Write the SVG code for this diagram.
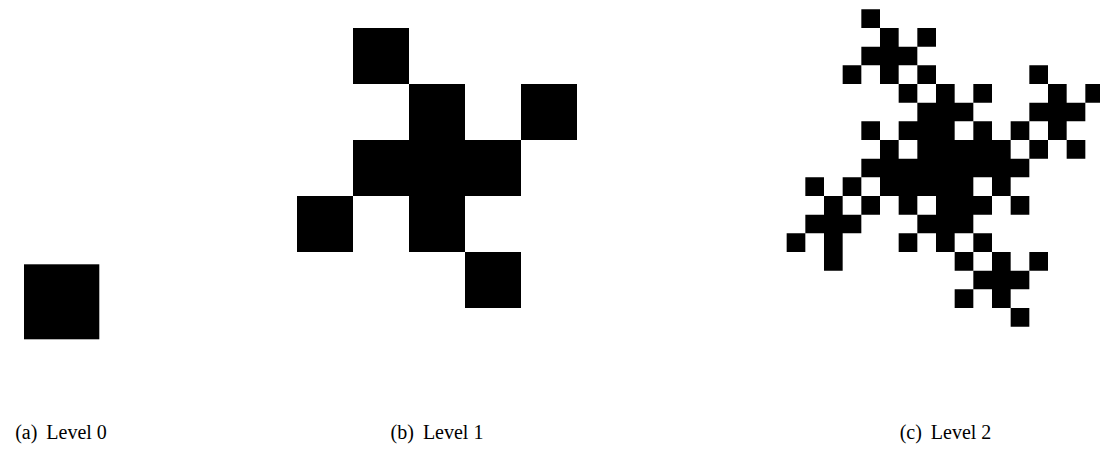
<svg xmlns="http://www.w3.org/2000/svg" width="1100" height="451" viewBox="0 0 1100 451">
<style>
.sq{fill:#000;stroke:none}
.cap{font-family:"Liberation Serif","Times New Roman",serif;font-size:20px;fill:#000;text-anchor:middle}
</style>
<rect width="1100" height="451" fill="#fff"/>
<g id="level0">
<rect class="sq" x="24" y="264.3" width="75.3" height="75"/>
</g>
<g id="level1" transform="translate(297,28) scale(56)">
<path class="sq" d="M1 0h1v1h-1zM2 1h1v1h-1zM4 1h1v1h-1zM1 2h1v1h-1zM2 2h1v1h-1zM3 2h1v1h-1zM0 3h1v1h-1zM2 3h1v1h-1zM3 4h1v1h-1z"/>
</g>
<g id="level2" transform="translate(805.333,28) scale(18.6667)">
<path class="sq" d="M3 -1h1v1h-1zM4 0h1v1h-1zM6 0h1v1h-1zM3 1h1v1h-1zM4 1h1v1h-1zM5 1h1v1h-1zM2 2h1v1h-1zM4 2h1v1h-1zM5 3h1v1h-1z
M7 3h1v1h-1zM6 4h1v1h-1zM7 4h1v1h-1zM8 4h1v1h-1zM7 5h1v1h-1zM6 2h1v1h-1zM9 3h1v1h-1zM5 5h1v1h-1zM8 6h1v1h-1z
M13 3h1v1h-1zM12 4h1v1h-1zM13 4h1v1h-1zM14 4h1v1h-1zM13 5h1v1h-1zM12 2h1v1h-1zM15 3h1v1h-1zM11 5h1v1h-1zM14 6h1v1h-1z
M4 6h1v1h-1zM3 7h1v1h-1zM4 7h1v1h-1zM5 7h1v1h-1zM4 8h1v1h-1zM3 5h1v1h-1zM6 6h1v1h-1zM2 8h1v1h-1zM5 9h1v1h-1z
M7 6h1v1h-1zM6 7h1v1h-1zM7 7h1v1h-1zM8 7h1v1h-1zM7 8h1v1h-1zM6 5h1v1h-1zM9 6h1v1h-1zM5 8h1v1h-1zM8 9h1v1h-1z
M10 6h1v1h-1zM9 7h1v1h-1zM10 7h1v1h-1zM11 7h1v1h-1zM10 8h1v1h-1zM9 5h1v1h-1zM12 6h1v1h-1zM8 8h1v1h-1zM11 9h1v1h-1z
M1 9h1v1h-1zM0 10h1v1h-1zM1 10h1v1h-1zM2 10h1v1h-1zM1 11h1v1h-1zM0 8h1v1h-1zM3 9h1v1h-1zM-1 11h1v1h-1zM1 12h1v1h-1z
M7 9h1v1h-1zM6 10h1v1h-1zM7 10h1v1h-1zM8 10h1v1h-1zM7 11h1v1h-1zM6 8h1v1h-1zM9 9h1v1h-1zM5 11h1v1h-1zM8 12h1v1h-1z
M10 12h1v1h-1zM9 13h1v1h-1zM10 13h1v1h-1zM11 13h1v1h-1zM10 14h1v1h-1zM9 11h1v1h-1zM12 12h1v1h-1zM8 14h1v1h-1zM11 15h1v1h-1z"/>
</g>
<g id="captions">
<text class="cap" x="61" y="439">(a)<tspan dx="9">Level 0</tspan></text>
<text class="cap" x="437" y="439">(b)<tspan dx="9">Level 1</tspan></text>
<text class="cap" x="945.5" y="439">(c)<tspan dx="9">Level 2</tspan></text>
</g>
</svg>
